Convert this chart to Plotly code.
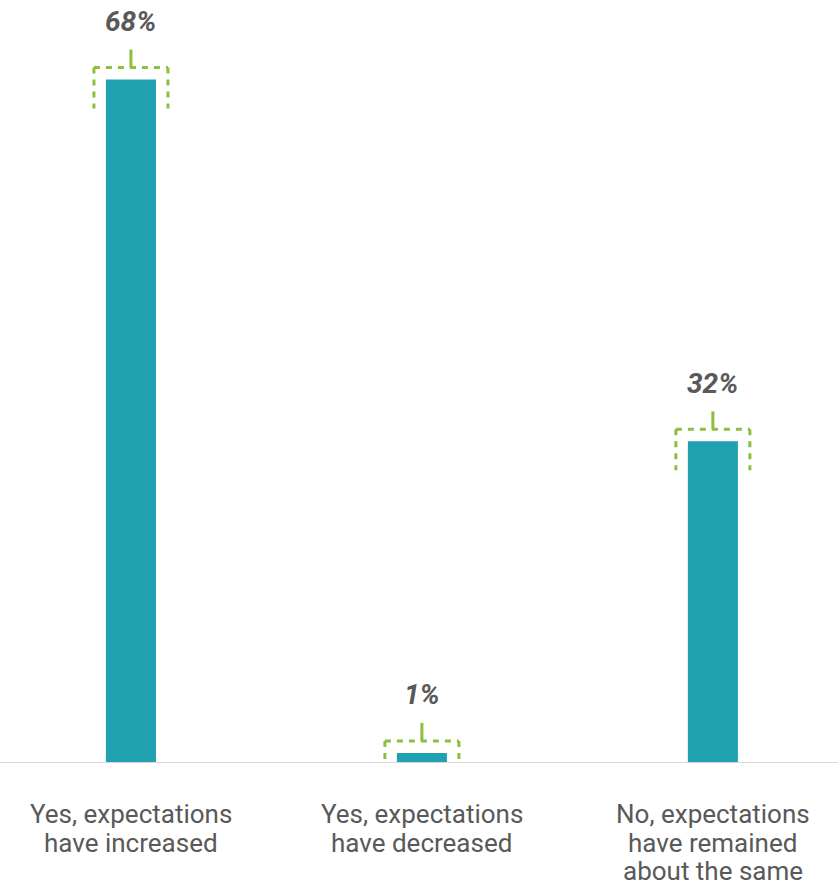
import plotly.graph_objects as go

categories = ["Yes, expectations<br>have increased",
              "Yes, expectations<br>have decreased",
              "No, expectations<br>have remained<br>about the same"]
values = [68, 1, 32]
labels = ["68%", "1%", "32%"]

BAR = "#21a0af"
GREEN = "#8cbf3f"
TXT = "#595959"

xs = list(range(len(categories)))
fig = go.Figure(go.Bar(x=xs, y=values, width=0.172, marker=dict(color=BAR, line=dict(width=0)),
                       hoverinfo="skip"))

shapes = []
for x, v in zip(xs, values):
    common = dict(type="line", xref="x", yref="y", xsizemode="pixel", ysizemode="pixel",
                  xanchor=x, yanchor=v, line=dict(color=GREEN, width=3, dash="6px,6px"), layer="above")
    shapes.append(dict(common, x0=-37, x1=37, y0=12, y1=12))
    shapes.append(dict(common, x0=-37, x1=-37, y0=12, y1=-29))
    shapes.append(dict(common, x0=37, x1=37, y0=12, y1=-29))
    solid = dict(common)
    solid["line"] = dict(color=GREEN, width=3)
    shapes.append(dict(solid, x0=0, x1=0, y0=12, y1=30))

annotations = [dict(x=x, y=v, xref="x", yref="y", text=f"<b><i>{t}</i></b>", showarrow=False,
                    yanchor="middle", yshift=58, font=dict(size=28, color=TXT, family="Roboto"))
               for x, v, t in zip(xs, values, labels)]

# category labels, one annotation per line for tight line spacing
for x, cat in zip(xs, categories):
    for k, line in enumerate(cat.split("<br>")):
        annotations.append(dict(x=x, y=0, xref="x", yref="y", text=line, showarrow=False,
                                yanchor="middle", yshift=-(51 + 28.5 * k), borderpad=0,
                                font=dict(size=26, color=TXT, family="Roboto")))

fig.update_layout(
    width=838, height=886,
    margin=dict(l=0, r=0, t=0, b=123, autoexpand=False),
    plot_bgcolor="white", paper_bgcolor="white",
    showlegend=False,
    shapes=shapes, annotations=annotations,
    font=dict(family="Roboto", color=TXT),
    xaxis=dict(range=[-0.45, 2.43], showticklabels=False, showgrid=False, zeroline=False,
               showline=False, ticks="", fixedrange=True, automargin=False),
    yaxis=dict(range=[0, 75.9], visible=False, showgrid=False, zeroline=True,
               fixedrange=True, automargin=False),
)
fig.add_shape(type="line", xref="paper", yref="y", x0=0, x1=1, y0=0, y1=0,
              line=dict(color="#d9d9d9", width=2), layer="above")
fig.write_html("out.html")
